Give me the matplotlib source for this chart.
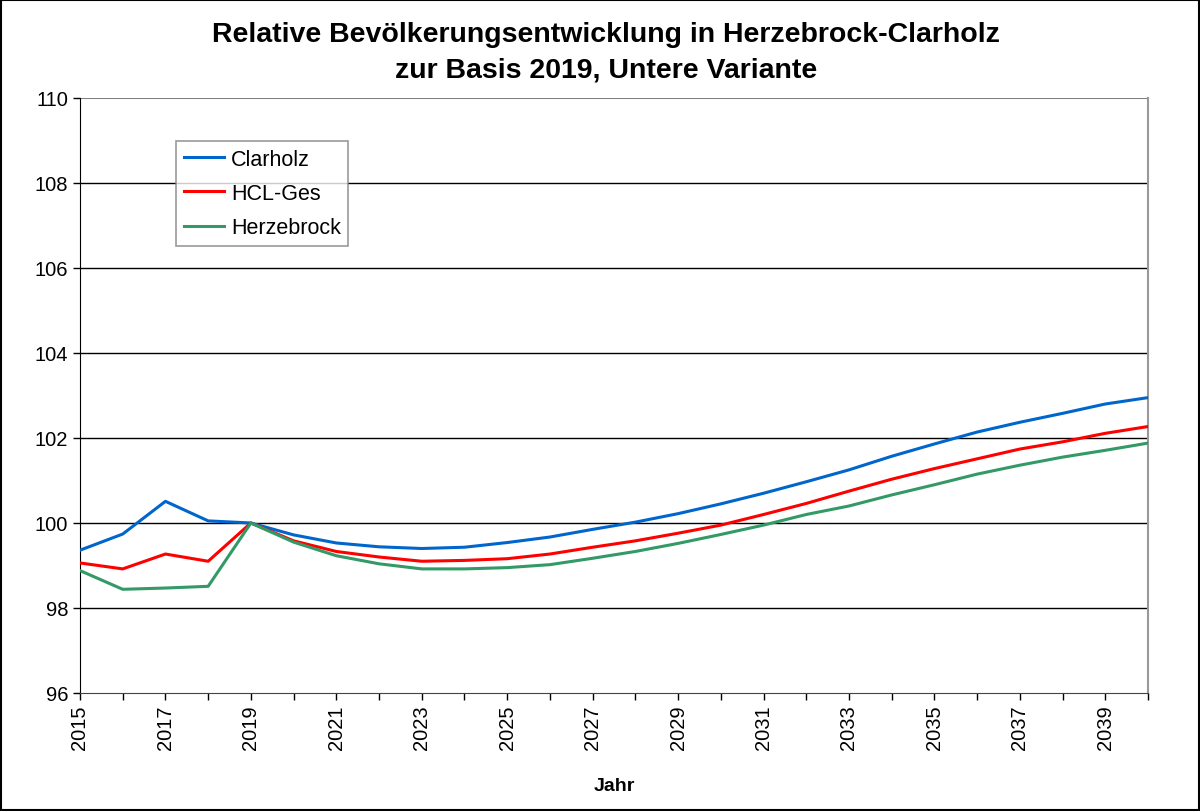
import matplotlib
matplotlib.use("Agg")
import matplotlib.pyplot as plt
from matplotlib.patches import Rectangle

plt.rcParams['font.family'] = ['Liberation Sans', 'DejaVu Sans']

years = list(range(2015, 2041))
clarholz = [99.36, 99.74, 100.51, 100.05, 100.00, 99.72, 99.53, 99.44, 99.40, 99.43,
            99.54, 99.67, 99.85, 100.02, 100.22, 100.45, 100.70, 100.97, 101.25, 101.57,
            101.86, 102.14, 102.37, 102.58, 102.80, 102.95]
hcl_ges = [99.06, 98.92, 99.27, 99.10, 100.00, 99.58, 99.33, 99.20, 99.10, 99.12,
           99.16, 99.27, 99.43, 99.58, 99.76, 99.95, 100.20, 100.46, 100.75, 101.03,
           101.28, 101.51, 101.74, 101.91, 102.11, 102.27]
herzebrock = [98.88, 98.44, 98.47, 98.51, 100.00, 99.55, 99.23, 99.04, 98.92, 98.92,
              98.95, 99.02, 99.17, 99.33, 99.52, 99.73, 99.95, 100.20, 100.40, 100.66,
              100.90, 101.15, 101.36, 101.55, 101.71, 101.88]
series_names = ["Clarholz", "HCL-Ges", "Herzebrock"]
colors = ["#0066CC", "#FF0000", "#339966"]
y_ticks = [96, 98, 100, 102, 104, 106, 108, 110]

fig = plt.figure(figsize=(12, 8.12), dpi=100)
ax = fig.add_axes([80/1200, 1-694/812, (1148-80)/1200, (694-99)/812])

for vals, name, c in zip([clarholz, hcl_ges, herzebrock], series_names, colors):
    ax.plot(years, vals, color=c, lw=2.2, label=name, zorder=3)

ax.set_xlim(2015, 2040)
ax.set_ylim(96, 110)
ax.set_yticks(y_ticks)
ax.set_xticks(years, minor=False)
ax.set_xticklabels([str(y) if (y - 2015) % 2 == 0 else "" for y in years], rotation=90, fontsize=14.5)
ax.tick_params(axis='y', labelsize=14.5, direction='out', length=5, width=1)
ax.tick_params(axis='x', direction='out', length=5, width=1, pad=3)
for t in y_ticks[1:-1]:
    ax.axhline(t, color='black', lw=1, zorder=1)
ax.axhline(110, color='#808080', lw=1.5, zorder=1)
ax.spines['top'].set_visible(False)
ax.spines['right'].set_color('#999999')
ax.spines['right'].set_linewidth(1.5)
ax.spines['left'].set_color('black')
ax.spines['bottom'].set_color('#444444')

ax.set_xlabel("Jahr", fontsize=14, fontweight='bold', labelpad=20)
fig.text(0.505, 1-35/812, "Relative Bevölkerungsentwicklung in Herzebrock-Clarholz",
         ha='center', va='center', fontsize=20.5, fontweight='bold')
fig.text(0.505, 1-70/812, "zur Basis 2019, Untere Variante",
         ha='center', va='center', fontsize=20.5, fontweight='bold')

leg = ax.legend(loc='upper left', bbox_to_anchor=((176-80)/1068, (694-142)/595),
                fontsize=15.5, frameon=True, fancybox=False, handlelength=1.9,
                borderpad=0.35, labelspacing=0.62, handletextpad=0.3, borderaxespad=0)
leg.get_frame().set_edgecolor('#808080')
leg.get_frame().set_linewidth(1.2)

fig.patches.append(Rectangle((0.001, 0.001), 0.998, 0.998, transform=fig.transFigure,
                             fill=False, edgecolor='black', lw=1.5))
fig.savefig("out.png", dpi=100)
